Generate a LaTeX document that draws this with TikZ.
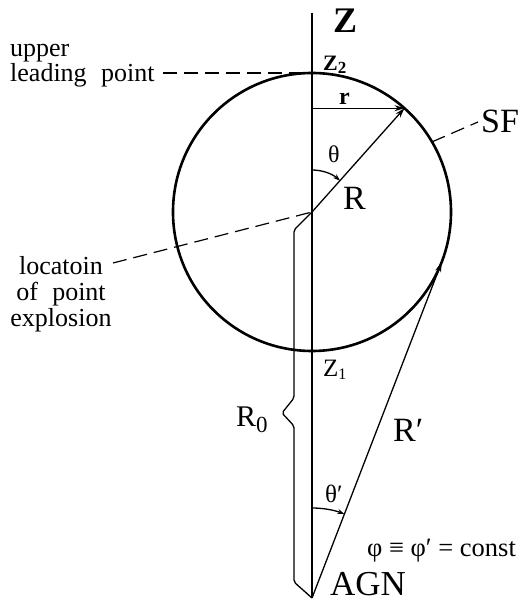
\documentclass[tikz,border=0pt]{standalone}
\usepackage{fontspec}
\setmainfont{Liberation Serif}
\usetikzlibrary{arrows.meta}
\newcommand\fsz[1]{\fontsize{#1}{#1}\selectfont}
\tikzset{
  thinline/.style={line width=1.3pt},
  frontline/.style={line width=2.6pt},
  axisline/.style={line width=2pt},
  leader/.style={line width=1.2pt, dash pattern=on 14pt off 7pt},
  tipped/.style={-{Stealth[length=10pt,width=6pt]}},
  smalltip/.style={-{Stealth[length=7pt,width=5pt]}},
  lbl/.style={inner sep=0pt, anchor=base west},
}
\begin{document}
\begin{tikzpicture}[x=1pt,y=1pt]
\useasboundingbox (0,0) rectangle (520,600);
% key points
\coordinate (top) at (312,587);
\coordinate (agn) at (312,2);
\coordinate (o) at (312,388);
\coordinate (z2) at (312,527);
\coordinate (z1) at (312,249);
\coordinate (e) at (404.5,491.8);
\coordinate (rs) at (312,491.8);
\coordinate (t) at (441.7,337.9);
\coordinate (sfp) at (432,458.1);
\coordinate (sfe) at (478,478);
\coordinate (ulpe) at (163,527);
\coordinate (loce) at (113,337);
\coordinate (ths) at (312,430);
\coordinate (thps) at (312,92);
\coordinate (b1) at (294,370);
\coordinate (b2) at (294,202);
\coordinate (b3) at (282,187);
\coordinate (b4) at (294,174);
\coordinate (b5) at (294,18);
% shock front
\node[draw, frontline, circle, minimum size=278pt, inner sep=0pt] (sf) at (o) {};
% axis
\draw[axisline] (top) -- (agn);
% vectors
\draw[thinline, tipped] (o) -- (e);
\draw[thinline, tipped] (rs) -- (e);
\draw[thinline, tipped] (agn) -- (t);
\draw[thinline, smalltip] (ths) arc[start angle=90, end angle=48.3, radius=42];
\draw[thinline, smalltip] (thps) arc[start angle=90, end angle=68.9, radius=90];
% R0 bracket
\draw[thinline, rounded corners=2pt] (o) -- (b1) -- (b2) -- (b3) -- (b4) -- (b5) -- (agn);
% leaders
\draw[leader] (ulpe) -- (z2);
\draw[leader] (loce) -- (o);
\draw[leader] (sfp) -- (sfe);
% labels
\node[lbl, font=\bfseries\fsz{36}] (zl) at (333,567) {Z};
\node[lbl, font=\bfseries\fsz{22}] (z2l) at (323,529) {Z\raisebox{-3pt}{\fsz{17}2}};
\node[lbl, font=\bfseries\fsz{24}] (rl) at (339,495) {r};
\node[lbl, font=\fsz{24}] (thl) at (328,437) {θ};
\node[lbl, font=\fsz{34}] (bigr) at (343,390) {R};
\node[lbl, font=\fsz{34}] (sfl) at (481,467) {SF};
\node[lbl, font=\fsz{25}] (z1l) at (323,223) {Z\raisebox{-3pt}{\fsz{16}1}};
\node[lbl, font=\fsz{30}] (r0l) at (236,173) {R\raisebox{-6pt}{\fsz{23}0}};
\node[lbl, font=\fsz{34}] (rpl) at (393,158) {R′};
\node[lbl, font=\fsz{25}] (thpl) at (325,97) {θ′};
\node[lbl, font=\fsz{26.5}] (phil) at (367,43) {φ ≡ φ′ = const};
\node[lbl, font=\fsz{35}] (agnl) at (330,5) {AGN};
\node[inner sep=0pt, anchor=north west, align=left, font=\fontsize{26}{23}\selectfont] (ulp) at (10,556) {upper\\leading\hspace{0.3em} point};
\node[inner sep=0pt, anchor=north, align=center, font=\fontsize{26}{26}\selectfont] (loc) at (61,344) {locatoin\\of\hspace{0.3em} point\\explosion};
\end{tikzpicture}
\end{document}
